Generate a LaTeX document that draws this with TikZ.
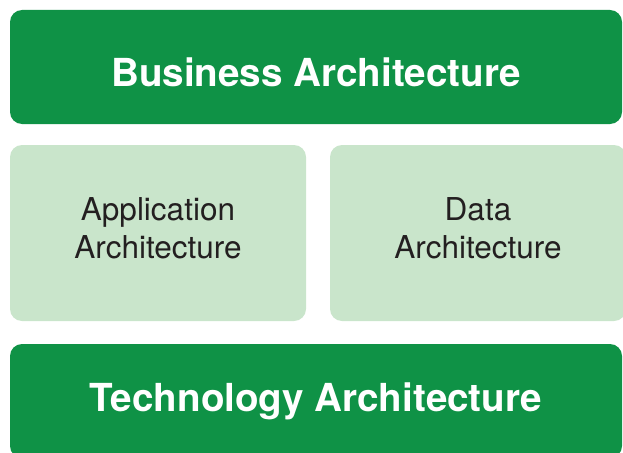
\documentclass[tikz,border=0pt]{standalone}
\usepackage{fontspec}
\setmainfont{TeX Gyre Heros}
\usepackage{xcolor}
\definecolor{layerdark}{HTML}{0F9246}
\definecolor{layerlight}{HTML}{C9E5CB}
\definecolor{layertext}{HTML}{231F20}
\usepackage{tikz}

\begin{document}
\begin{tikzpicture}[
  x=1pt, y=-1pt,
  box/.style={rounded corners=12pt, inner sep=0pt, align=center},
  outer/.style={box, fill=layerdark, text=white, minimum width=612pt, minimum height=114pt, font=\fontsize{38.6}{46}\selectfont\bfseries},
  inner/.style={box, fill=layerlight, text=layertext, minimum width=296pt, minimum height=176pt, text depth=9.5pt, font=\fontsize{31.5}{37.5}\selectfont}]
\useasboundingbox (0,0) rectangle (623,452);
% ---- outer layers
\node[outer, text height=38pt, text depth=0pt] (business) at (316,67) {Business Architecture};
\node[outer] (technology) at (316,401) {Technology Architecture};
% ---- middle layer
\node[inner] (application) at (158,233) {Application\\Architecture};
\node[inner] (data) at (478,233) {Data\\Architecture};
\end{tikzpicture}
\end{document}
